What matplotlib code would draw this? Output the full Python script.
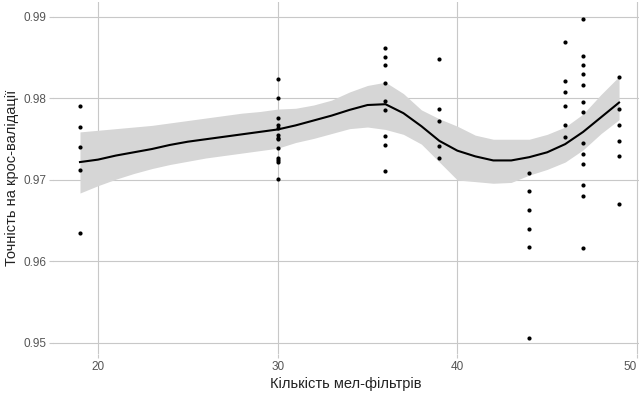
import matplotlib
matplotlib.use('Agg')
import matplotlib.pyplot as plt

plt.rcParams['font.family'] = ['Liberation Sans', 'DejaVu Sans']

# Observed accuracies per number of mel filters
n_filters = ([19] * 5 + [30] * 13 + [36] * 9 + [39] * 5 + [44] * 6
             + [46] * 6 + [47] * 13 + [49] * 6)
accuracy = [
    0.9791, 0.9765, 0.9740, 0.9712, 0.9635,
    0.9824, 0.9800, 0.9776, 0.9767, 0.9764, 0.9755, 0.9752, 0.9750,
    0.9739, 0.9727, 0.9724, 0.9722, 0.9701,
    0.9862, 0.9851, 0.9841, 0.9819, 0.9797, 0.9786, 0.9754, 0.9743, 0.9711,
    0.9849, 0.9787, 0.9773, 0.9742, 0.9727,
    0.9708, 0.9686, 0.9663, 0.9640, 0.9618, 0.9506,
    0.9869, 0.9822, 0.9808, 0.9791, 0.9767, 0.9753,
    0.9898, 0.9852, 0.9841, 0.9830, 0.9817, 0.9796, 0.9783, 0.9745,
    0.9732, 0.9720, 0.9694, 0.9680, 0.9617,
    0.9826, 0.9787, 0.9767, 0.9748, 0.9729, 0.9670,
]

# Smoothed trend (loess), with its confidence band
smooth_x = list(range(19, 50))
smooth_fit = [
    0.9722, 0.9725, 0.9730, 0.9734, 0.9738, 0.9743, 0.9747, 0.9750,
    0.9753, 0.9756, 0.9759, 0.9762, 0.9767, 0.9773, 0.9779, 0.9786,
    0.9792, 0.9793, 0.9782, 0.9766, 0.9748, 0.9736, 0.9729, 0.9724,
    0.9724, 0.9728, 0.9734, 0.9744, 0.9759, 0.9777, 0.9795,
]
smooth_hi = [
    0.9759, 0.9761, 0.9763, 0.9765, 0.9767, 0.9770, 0.9773, 0.9776,
    0.9779, 0.9782, 0.9784, 0.9787, 0.9788, 0.9792, 0.9798, 0.9808,
    0.9816, 0.9820, 0.9806, 0.9786, 0.9775, 0.9766, 0.9755, 0.9750,
    0.9750, 0.9750, 0.9756, 0.9765, 0.9781, 0.9805, 0.9827,
]
smooth_lo = [
    0.9684, 0.9693, 0.9701, 0.9708, 0.9714, 0.9719, 0.9723, 0.9727,
    0.9730, 0.9733, 0.9736, 0.9739, 0.9746, 0.9751, 0.9757, 0.9763,
    0.9765, 0.9762, 0.9756, 0.9744, 0.9722, 0.9700, 0.9698, 0.9696,
    0.9697, 0.9706, 0.9713, 0.9722, 0.9737, 0.9757, 0.9774,
]

x_ticks = [20, 30, 40, 50]
y_ticks = [0.95, 0.96, 0.97, 0.98, 0.99]

fig = plt.figure(figsize=(6.39, 4.0), dpi=100)
ax = fig.add_axes([0.083, 0.115, 0.917, 0.88])

ax.fill_between(smooth_x, smooth_lo, smooth_hi, color='#d6d6d6', lw=0, zorder=2)
ax.plot(smooth_x, smooth_fit, color='black', lw=1.5, zorder=3)
ax.scatter(n_filters, accuracy, s=9, color='black', lw=0, zorder=4)

ax.set_xlim(17.5, 50.11)
ax.set_ylim(0.94865, 0.99184)
ax.set_xticks(x_ticks)
ax.set_yticks(y_ticks)
ax.set_yticklabels([f"{v:.2f}" for v in y_ticks])
ax.grid(True, color='#c8c8c8', lw=0.8, zorder=0)
ax.set_axisbelow(True)
for s in ax.spines.values():
    s.set_visible(False)
ax.tick_params(colors='#c8c8c8', labelcolor='#555555', labelsize=8.5,
               length=3, width=0.8, pad=2)
# keep the last x label inside the image
ax.get_xticklabels()[-1].set_ha('right')

ax.set_xlabel("Кількість мел-фільтрів", fontsize=10.5, color='#222222', labelpad=3)
ax.set_ylabel("Точність на крос-валідації", fontsize=10.5, color='#222222', labelpad=3)

fig.savefig("out.png", dpi=100)
